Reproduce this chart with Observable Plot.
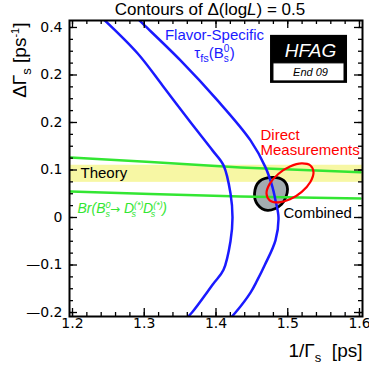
<!DOCTYPE html>
<html><head><meta charset="utf-8">
<script src="https://cdn.jsdelivr.net/npm/d3@7"></script>
<script src="https://cdn.jsdelivr.net/npm/@observablehq/plot@0.6"></script>
<style>
body{margin:0;background:#fff;}
#chart svg{display:block;}
</style></head><body><div id="chart"></div>
<script>
// ---- axes / ticks ----
const xTicks = [1.2, 1.3, 1.4, 1.5, 1.6];
const xTickLabels = ["1.2", "1.3", "1.4", "1.5", "1.6"];
const yTicks = [-0.2, -0.1, 0, 0.1, 0.2, 0.3, 0.4];
const yTickLabels = ["\u20140.2", "\u20140.1", "0", "0.1", "0.2", "0.2", "0.4"];
const xMinor = d3.range(1.2, 1.6001, 0.02);
const yMinor = d3.range(-0.2, 0.4001, 0.025);

// ---- flavor-specific lifetime contour (two branches): deltaGamma, 1/Gamma ----
const fsInnerDG  = [0.42, 0.3457, 0.278, 0.2003, 0.1413, 0.1097, 0.0507, 0, -0.05, -0.11, -0.14, -0.2, -0.215];
const fsInnerTau = [1.2414, 1.2906, 1.3254, 1.3645, 1.3951, 1.4105, 1.4202, 1.423, 1.4202, 1.4105, 1.396, 1.3665, 1.357];
const fsOuterDG  = [0.42, 0.4065, 0.3307, 0.2465, 0.1623, 0.1055, 0.0634, 0.036, 0, -0.048, -0.1, -0.1325, -0.158, -0.2, -0.215];
const fsOuterTau = [1.2898, 1.299, 1.3505, 1.4021, 1.4481, 1.469, 1.4788, 1.4829, 1.4871, 1.4829, 1.468, 1.4574, 1.4481, 1.4272, 1.418];

// ---- Br(Bs -> Ds(*) Ds(*)) band edges ----
const brUpperTau = [1.1972, 1.3087, 1.4341, 1.6014];
const brUpperDG  = [0.1265, 0.117, 0.1055, 0.095];
const brLowerTau = [1.1972, 1.3087, 1.4341, 1.6014];
const brLowerDG  = [0.0549, 0.0493, 0.0444, 0.0402];

// ---- theory band ----
const theoryLo = 0.074;
const theoryHi = 0.110;

// ---- direct measurements contour ----
const directTau = [1.5359, 1.5316, 1.5195, 1.5031, 1.4868, 1.4748, 1.4704, 1.4748, 1.4868, 1.5031, 1.5195, 1.5315];
const directDG  = [0.0952, 0.1095, 0.1139, 0.1074, 0.0916, 0.0707, 0.0505, 0.0362, 0.0318, 0.0383, 0.0541, 0.0749];

// ---- combined contour ----
const combTau = [1.4997, 1.4941, 1.4787, 1.4606, 1.4537, 1.4578, 1.4718, 1.4913];
const combDG  = [0.0592, 0.0781, 0.0844, 0.0760, 0.0507, 0.0276, 0.0149, 0.0276];

const zip = (xs, ys) => xs.map((x, i) => ({x, y: ys[i]}));

const font = "'Liberation Sans', Arial, Helvetica, sans-serif";
const tickFont = "'DejaVu Sans', sans-serif";
const blue = "#1a1aff", green = "#33e633", red = "#ff0000";

const xDom = [1.19582, 1.60418];
const yDom = [-0.2084, 0.4147];
const W = 369, H = 367, ML = 69, MR = 7, MT = 20, MB = 51;
const xPerPx = (xDom[1] - xDom[0]) / (W - ML - MR);
const yPerPx = (yDom[1] - yDom[0]) / (H - MT - MB);

const centerLabels = [
  {key: "Flavor-Specific", x: 1.3979, y: 0.3834, fill: blue},
  {key: "TAUFS", x: 1.3979, y: 0.3455, fill: blue}
];
const startLabels = [
  {key: "Direct", x: 1.462, y: 0.1728, fill: red},
  {key: "Measurements", x: 1.462, y: 0.1413, fill: red},
  {key: "Theory", x: 1.2111, y: 0.0928, fill: "black"},
  {key: "Combined", x: 1.4941, y: 0.0086, fill: "black"}
];
const brLabel = [{key: "BRLABEL", x: 1.207, y: 0.0192}];

const rich = {
  "TITLE": 'Contours of \u0394(log<tspan font-style="italic">L</tspan>) = 0.5',
  "YLABEL": '\u0394\u0393<tspan dy="5" font-size="13">s</tspan><tspan dy="-5"> [ps</tspan><tspan dy="-7" font-size="11">-1</tspan><tspan dy="7">]</tspan>',
  "XLABEL": '1/\u0393<tspan dy="5" font-size="13">s</tspan><tspan dy="-5">\u00a0 [ps]</tspan>',
  "TAUFS": '\u03c4<tspan dy="4" font-size="11">fs</tspan><tspan dy="-4">(B</tspan><tspan dy="-6" font-size="10">0</tspan><tspan dx="-5.6" dy="10" font-size="10">s</tspan><tspan dx="1" dy="-4">)</tspan>',
  "BRLABEL": 'Br(B<tspan dy="-5" font-size="9">0</tspan><tspan dx="-5" dy="9" font-size="9">s</tspan><tspan dy="-4" font-family="DejaVu Sans" font-size="12">\u2192</tspan><tspan> D</tspan><tspan dy="-5" font-size="9">(*)</tspan><tspan dx="-12" dy="9" font-size="9">s</tspan><tspan dx="7" dy="-4">D</tspan><tspan dy="-5" font-size="9">(*)</tspan><tspan dx="-12" dy="9" font-size="9">s</tspan><tspan dx="7" dy="-4">)</tspan>'
};

const tickW = 1.3, majL = 8, minL = 4;
const tickMarks = (vals, len) => [
  Plot.ruleX(vals, {x: d => d, y1: yDom[0], y2: yDom[0] + len * yPerPx, stroke: "black", strokeWidth: tickW}),
  Plot.ruleX(vals, {x: d => d, y1: yDom[1], y2: yDom[1] - len * yPerPx, stroke: "black", strokeWidth: tickW})
];
const tickMarksY = (vals, len) => [
  Plot.ruleY(vals, {y: d => d, x1: xDom[0], x2: xDom[0] + len * xPerPx, stroke: "black", strokeWidth: tickW}),
  Plot.ruleY(vals, {y: d => d, x1: xDom[1], x2: xDom[1] - len * xPerPx, stroke: "black", strokeWidth: tickW})
];

const plot = Plot.plot({
  width: W, height: H,
  marginLeft: ML, marginRight: MR, marginTop: MT, marginBottom: MB,
  style: {fontFamily: font, background: "white", overflow: "visible", color: "black"},
  x: {domain: xDom},
  y: {domain: yDom},
  marks: [
    Plot.rect([{lo: theoryLo, hi: theoryHi}], {y1: "lo", y2: "hi", fill: "#f7f7a4"}),
    Plot.line(zip(combTau, combDG), {x: "x", y: "y", curve: "catmull-rom-closed", fill: "#a3acb1", stroke: "black", strokeWidth: 2.8}),
    Plot.line(zip(brUpperTau, brUpperDG), {x: "x", y: "y", stroke: green, strokeWidth: 2.5}),
    Plot.line(zip(brLowerTau, brLowerDG), {x: "x", y: "y", stroke: green, strokeWidth: 2.5}),
    Plot.line(zip(fsInnerTau, fsInnerDG), {x: "x", y: "y", stroke: blue, strokeWidth: 2.5, curve: "catmull-rom", clip: true}),
    Plot.line(zip(fsOuterTau, fsOuterDG), {x: "x", y: "y", stroke: blue, strokeWidth: 2.5, curve: "catmull-rom", clip: true}),
    Plot.line(zip(directTau, directDG), {x: "x", y: "y", stroke: red, strokeWidth: 2.2, curve: "catmull-rom-closed"}),
    // HFAG logo
    Plot.rect([{x1: 1.476, x2: 1.5833, y1: 0.2823, y2: 0.3834}], {x1: "x1", x2: "x2", y1: "y1", y2: "y2", fill: "black"}),
    Plot.rect([{x1: 1.4801, x2: 1.5791, y1: 0.2865, y2: 0.3244}], {x1: "x1", x2: "x2", y1: "y1", y2: "y2", fill: "white", stroke: "black"}),
    Plot.text(["HFAG"], {x: () => 1.5317, y: () => 0.3517, text: d => d, fill: "white", fontSize: 19, fontStyle: "italic"}),
    Plot.text(["End 09"], {x: () => 1.5317, y: () => 0.3044, text: d => d, fill: "black", fontSize: 11, fontStyle: "italic"}),
    // annotations
    Plot.text(centerLabels, {x: "x", y: "y", text: "key", fill: "fill", textAnchor: "middle", fontSize: 15}),
    Plot.text(startLabels, {x: "x", y: "y", text: "key", fill: "fill", textAnchor: "start", fontSize: 15}),
    Plot.text(brLabel, {x: "x", y: "y", text: "key", fill: green, textAnchor: "start", fontSize: 14, fontStyle: "italic"}),
    // titles
    Plot.text(["TITLE"], {frameAnchor: "top", lineAnchor: "middle", text: d => d, dx: -6, dy: -11, fontSize: 17}),
    Plot.text(["YLABEL"], {frameAnchor: "top-left", lineAnchor: "middle", text: d => d, rotate: -90, textAnchor: "end", dx: -50, dy: 2, fontSize: 19}),
    Plot.text(["XLABEL"], {frameAnchor: "bottom-right", lineAnchor: "middle", text: d => d, textAnchor: "end", dy: 34, fontSize: 19}),
    // frame and inward ticks
    Plot.frame({stroke: "black", strokeWidth: 2}),
    ...tickMarks(xTicks, majL),
    ...tickMarks(xMinor, minL),
    ...tickMarksY(yTicks, majL),
    ...tickMarksY(yMinor, minL),
    Plot.axisX(xTicks, {anchor: "bottom", tickSize: 0, tickPadding: 2, tickFormat: d => xTickLabels[xTicks.indexOf(d)], fontSize: 14, fontFamily: tickFont, label: null}),
    Plot.axisY(yTicks, {anchor: "left", tickSize: 0, tickPadding: 7, tickFormat: d => yTickLabels[yTicks.indexOf(d)], fontSize: 14, fontFamily: tickFont, label: null})
  ]
});

d3.select(plot).selectAll("text").each(function() {
  const t = this.textContent;
  if (rich[t]) this.innerHTML = rich[t];
});
document.getElementById("chart").appendChild(plot);
</script>
</body></html>
